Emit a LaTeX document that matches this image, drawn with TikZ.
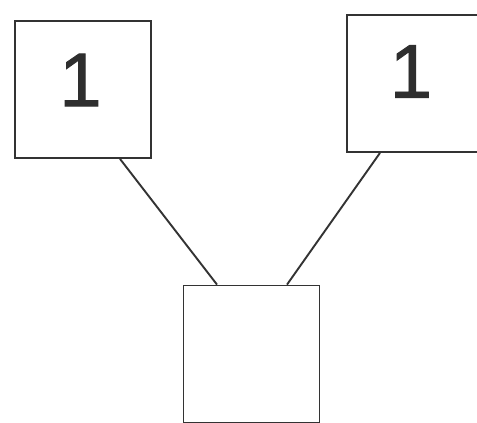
\documentclass[tikz,border=0pt]{standalone}
\usepackage{fontspec}
\setmainfont{Liberation Sans}
\newfontfamily\digitfont{Liberation Sans}[FakeBold=1.2]
\begin{document}
\begin{tikzpicture}[x=1pt,y=-1pt,
  boxnode/.style={draw=black!80,line width=1.8pt,minimum width=136pt,minimum height=137pt,inner sep=0pt},
  digit/.style={inner sep=0pt,font=\digitfont\fontsize{76}{76}\selectfont,text=black!82},
  link/.style={draw=black!80,line width=1.9pt}]
\useasboundingbox[fill=white] (0,0) rectangle (477,423);
\begin{scope}
\clip (0,0) rectangle (477,423);
\node[boxnode] (a) at (83,89.5) {};
\node[boxnode] (b) at (415,83.5) {};
\node[boxnode] (c) at (251.5,354) {};
\node[digit] (ta) at (80.5,80) {1};
\node[digit] (tb) at (411,71.5) {1};
\draw[link] (a.south -| 120,0) -- (c.north -| 217,0);
\draw[link] (b.south -| 380,0) -- (c.north -| 287,0);
\end{scope}
\end{tikzpicture}
\end{document}
